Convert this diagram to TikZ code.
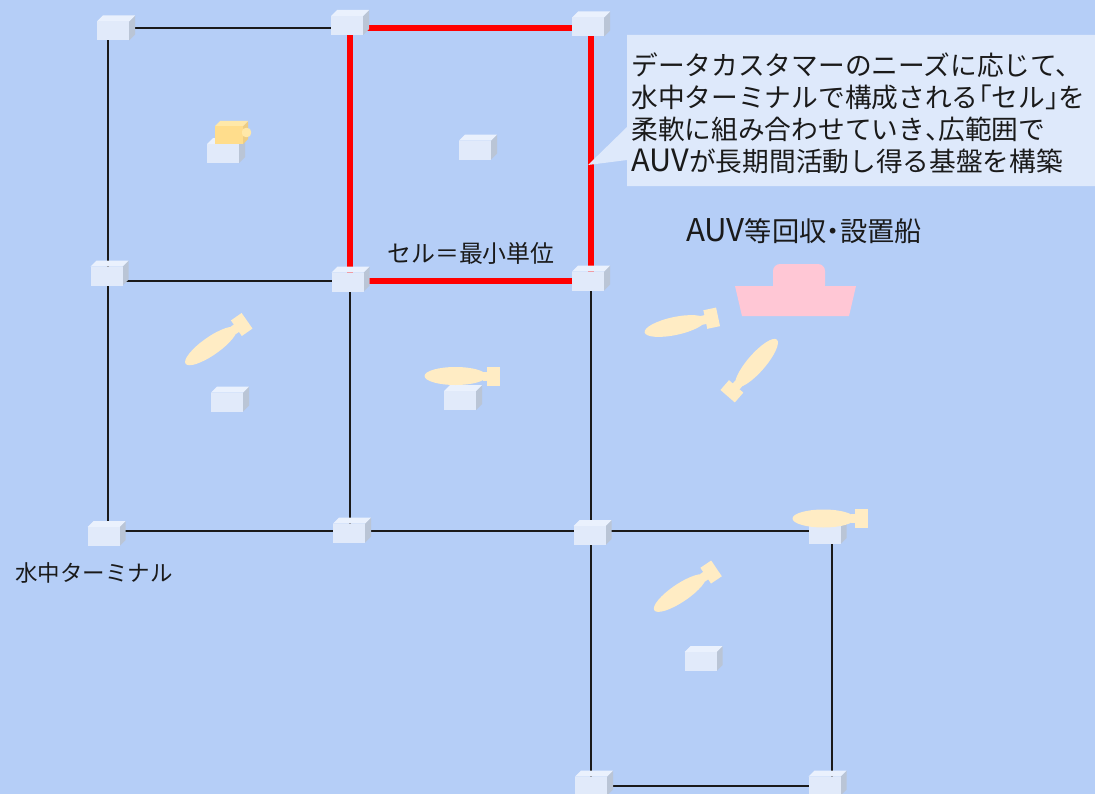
\documentclass[tikz,border=0pt]{standalone}
\usepackage{fontspec}
\setmainfont{Noto Sans CJK JP}
\usepackage{xcolor}
\usepackage{tikz}

\definecolor{sea}{RGB}{181,206,247}
\definecolor{termfront}{RGB}{225,234,250}
\definecolor{termtop}{RGB}{234,241,253}
\definecolor{termside}{RGB}{186,197,214}
\definecolor{notefill}{RGB}{222,233,251}
\definecolor{auvcol}{RGB}{255,236,196}
\definecolor{shipcol}{RGB}{255,199,213}
\definecolor{chargefront}{RGB}{255,221,140}
\definecolor{chargetop}{RGB}{255,232,168}
\definecolor{chargeside}{RGB}{238,205,130}
\definecolor{ink}{RGB}{26,26,26}

% Latin caps as tall as the kana, half-width brackets
\newcommand{\latin}[1]{{\fontsize{1.15\dimexpr\fontdimen6\font\relax}{0pt}\selectfont #1}}
\newcommand{\halfpunct}[1]{{\addfontfeatures{RawFeature=+halt}#1}}

\tikzset{
  % underwater terminal: small box with top and side face
  terminal/.pic={
    \fill[termside] (16,-9.5) -- (22,-15.5) -- (22,3.5) -- (16,9.5) -- cycle;
    \fill[termtop] (-16,-9.5) -- (-10,-15.5) -- (22,-15.5) -- (16,-9.5) -- cycle;
    \fill[termfront] (-16,-9.5) rectangle (16,9.5);
  },
  % AUV: body with the tail fin on +x
  auv/.pic={
    \fill[auvcol] (0,0) ellipse [x radius=31, y radius=9];
    \fill[auvcol] (27,-4.5) rectangle (32,4.5);
    \fill[auvcol] (31,-9.5) rectangle (44,9.5);
  }
}

\begin{document}
\begin{tikzpicture}[x=0.02cm, y=-0.02cm,
    cable/.style={draw=ink, line width=1.6pt},
    cellline/.style={draw=red, line width=2.9pt},
    label/.style={text=ink, inner sep=0pt, font=\fontsize{#1}{#1}\selectfont}]
    % Sea
    \fill[sea] (0,0) rectangle (1095,794);
    \useasboundingbox (0,0) rectangle (1095,794);

    % Grid corners
    \coordinate (a1) at (108,28);
    \coordinate (a2) at (350,28);
    \coordinate (a3) at (591,28);
    \coordinate (b1) at (108,281);
    \coordinate (b2) at (350,281);
    \coordinate (b3) at (591,281);
    \coordinate (c1) at (108,531);
    \coordinate (c2) at (350,531);
    \coordinate (c3) at (591,531);
    \coordinate (c4) at (832,531);
    \coordinate (d3) at (591,786);
    \coordinate (d4) at (832,786);

    % Cables between terminals
    \draw[cable] (b1) -- (a1) -- (a2);
    \draw[cable] (b1) -- (b2) -- (c2) -- (c1) -- cycle;
    \draw[cable] (c2) -- (c3) -- (b3);
    \draw[cable] (c3) -- (c4) -- (d4) -- (d3) -- cycle;

    % One cell
    \draw[cellline] (a2) -- (a3) -- (b3) -- (b2) -- cycle;

    % Terminals at the corners
    \pic[shift={(5,3)}] at (a1) {terminal};
    \pic[shift={(-3,-2.5)}] at (a2) {terminal};
    \pic[shift={(-3,-1)}] at (a3) {terminal};
    \pic[shift={(-1.5,-5)}] at (b1) {terminal};
    \pic[shift={(-2.5,1)}] at (b2) {terminal};
    \pic[shift={(-3,0)}] at (b3) {terminal};
    \pic[shift={(-4.5,5.5)}] at (c1) {terminal};
    \pic[shift={(-1,2)}] at (c2) {terminal};
    \pic[shift={(-1.5,4.5)}] at (c3) {terminal};
    \pic[shift={(-7.5,3.5)}] at (c4) {terminal};
    \pic at (d3) {terminal};
    \pic[shift={(-7.5,0)}] at (d4) {terminal};

    % Terminals inside the cells
    \pic at (223,153.5) {terminal};
    \pic at (475,150) {terminal};
    \pic at (227,402) {terminal};
    \pic at (460,400.5) {terminal};
    \pic at (700.5,661.5) {terminal};

    % Docked unit on top of a terminal
    \fill[chargeside] (243,126) -- (248,121) -- (248,139) -- (243,144) -- cycle;
    \fill[chargetop] (215,126) -- (220,121) -- (248,121) -- (243,126) -- cycle;
    \fill[chargefront] (215,126) rectangle (243,144);
    \fill[chargetop, rounded corners=2] (242,128) rectangle (251,137);

    % AUVs
    \pic[rotate=35] at (211,346) {auv};
    \pic at (455.5,376) {auv};
    \pic[rotate=12] at (675,326) {auv};
    \pic[rotate=-131] at (756.5,363) {auv};
    \pic at (823.5,518.5) {auv};
    \pic[rotate=34] at (680,593) {auv};

    % Recovery and deployment ship
    \fill[shipcol, rounded corners=4] (773,292) -- (773,264) -- (825,264) -- (825,292) -- cycle;
    \fill[shipcol] (735,286) -- (856,286) -- (849,316) -- (742,316) -- cycle;

    % Callout
    \fill[notefill] (627,35) -- (1095,35) -- (1095,186) -- (627,186)
        -- (627,160) -- (588,165) -- (627,127) -- cycle;
    \node[label=15.2, anchor=west, align=left,
          font=\fontsize{15.2}{18.2}\selectfont] (note) at (631,113)
        {データカスタマーのニーズに応じて、\\
         水中ターミナルで構成される\halfpunct{「}セル\halfpunct{」}を\\
         柔軟に組み合わせていき\halfpunct{、}広範囲で\\
         \latin{AUV}が長期間活動し得る基盤を構築};

    % Labels
    \node[label=13.6] (celllabel) at (471,253) {セル＝最小単位};
    \node[label=15.5] (shiplabel) at (804,231) {\latin{AUV}等回収\halfpunct{・}設置船};
    \node[label=12.8] (termlabel) at (94,573) {水中ターミナル};
\end{tikzpicture}
\end{document}
